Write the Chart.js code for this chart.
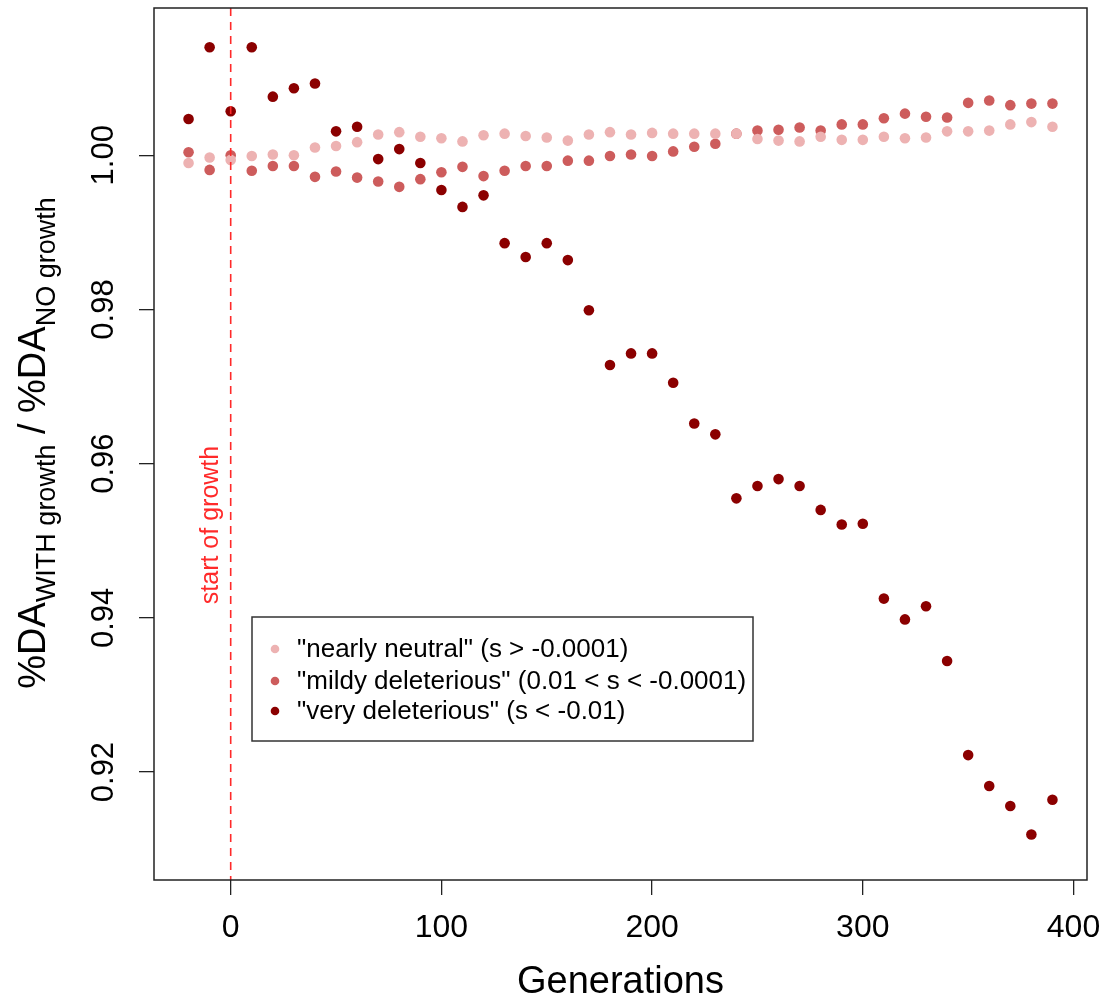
<!DOCTYPE html>
<html>
<head>
<meta charset="utf-8">
<script src="https://cdn.jsdelivr.net/npm/chart.js@4.4.0/dist/chart.umd.min.js"></script>
<style>
html,body{margin:0;padding:0;background:#ffffff;}
#wrap{width:1106px;height:1005px;position:relative;}
</style>
</head>
<body>
<div id="wrap"><canvas id="c" width="1106" height="1005"></canvas></div>
<script>
// ---------- data ----------
const generations = [-20,-10,0,10,20,30,40,50,60,70,80,90,100,110,120,130,140,150,160,170,180,190,200,210,220,230,240,250,260,270,280,290,300,310,320,330,340,350,360,370,380,390];
const nearlyNeutral = [0.9990,0.9997,0.9994,0.9999,1.0001,1.0000,1.0010,1.0012,1.0017,1.0027,1.0030,1.0024,1.0022,1.0018,1.0026,1.0028,1.0025,1.0023,1.0019,1.0027,1.0030,1.0027,1.0029,1.0028,1.0028,1.0028,1.0028,1.0021,1.0019,1.0018,1.0024,1.0020,1.0020,1.0024,1.0022,1.0023,1.0031,1.0031,1.0032,1.0040,1.0043,1.0037];
const mildlyDeleterious = [1.0004,0.9981,1.0000,0.9980,0.9986,0.9986,0.9972,0.9979,0.9971,0.9966,0.9959,0.9969,0.9978,0.9985,0.9973,0.9980,0.9986,0.9986,0.9993,0.9993,0.9999,1.0001,0.9999,1.0005,1.0011,1.0015,1.0028,1.0032,1.0033,1.0036,1.0032,1.0040,1.0040,1.0048,1.0054,1.0050,1.0049,1.0068,1.0071,1.0065,1.0067,1.0067];
const veryDeleterious = [1.0047,1.0140,1.0057,1.0140,1.0076,1.0087,1.0093,1.0031,1.0037,0.9995,1.0008,0.9990,0.9955,0.9933,0.9948,0.9886,0.9868,0.9886,0.9864,0.9799,0.9728,0.9743,0.9743,0.9705,0.9652,0.9638,0.9555,0.9571,0.9580,0.9571,0.9540,0.9521,0.9522,0.9425,0.9398,0.9415,0.9344,0.9222,0.9182,0.9156,0.9119,0.9164];
const xTickValues = [0,100,200,300,400];
const yTickValues = [0.92,0.94,0.96,0.98,1.00];
const seriesNames = ['"nearly neutral" (s > -0.0001)', '"mildy deleterious" (0.01 < s < -0.0001)', '"very deleterious" (s < -0.01)'];
const seriesColors = ['#EDB2B2', '#CD5C5C', '#8B0000'];
const xTitle = 'Generations';
const yTitleParts = [
  {text: '%DA', sub: false},
  {text: 'WITH growth', sub: true},
  {text: ' / ', sub: false},
  {text: '%DA', sub: false},
  {text: 'NO growth', sub: true}
];
const markerGeneration = 0;
const markerLabel = 'start of growth';

// ---------- chart ----------
const FAMILY = '"Liberation Sans", Arial, Helvetica, sans-serif';
const seriesValues = [nearlyNeutral, mildlyDeleterious, veryDeleterious];

const datasets = seriesValues.map((vals, k) => ({
  label: seriesNames[k],
  data: generations.map((g, i) => ({x: g, y: vals[i]})),
  backgroundColor: seriesColors[k],
  borderColor: seriesColors[k],
  borderWidth: 0,
  pointRadius: 5.3,
  pointHoverRadius: 5.3
}));

const decor = {
  id: 'decor',
  afterDatasetsDraw(chart) {
    const {ctx, chartArea: a, scales: {x}} = chart;
    const px = x.getPixelForValue(markerGeneration);
    ctx.save();
    ctx.beginPath(); ctx.rect(a.left, a.top, a.right - a.left, a.bottom - a.top); ctx.clip();
    ctx.strokeStyle = '#FF2A2A'; ctx.lineWidth = 1.6; ctx.setLineDash([8, 6]);
    ctx.beginPath(); ctx.moveTo(px, a.top); ctx.lineTo(px, a.bottom); ctx.stroke();
    ctx.restore();

    ctx.save();
    ctx.translate(px - 13, 525);
    ctx.rotate(-Math.PI / 2);
    ctx.font = '25px ' + FAMILY;
    ctx.fillStyle = '#FF2A2A';
    ctx.textAlign = 'center';
    ctx.textBaseline = 'alphabetic';
    ctx.fillText(markerLabel, 0, 0);
    ctx.restore();
  },
  afterDraw(chart) {
    const {ctx, chartArea: a} = chart;
    // frame
    ctx.save();
    ctx.strokeStyle = '#222'; ctx.lineWidth = 1.5;
    ctx.strokeRect(a.left, a.top, a.right - a.left, a.bottom - a.top);
    ctx.restore();

    // legend
    ctx.save();
    const lx = 252, ly = 617, lw = 501, lh = 124;
    ctx.fillStyle = '#fff';
    ctx.fillRect(lx, ly, lw, lh);
    ctx.strokeStyle = '#333'; ctx.lineWidth = 1.5;
    ctx.strokeRect(lx, ly, lw, lh);
    const rows = [649, 681, 711];
    ctx.font = '26px ' + FAMILY;
    ctx.textBaseline = 'middle';
    ctx.textAlign = 'left';
    chart.data.datasets.forEach((ds, k) => {
      ctx.fillStyle = ds.backgroundColor;
      ctx.beginPath(); ctx.arc(lx + 23, rows[k], 4.3, 0, Math.PI * 2); ctx.fill();
      ctx.fillStyle = '#000';
      ctx.fillText(ds.label, lx + 45, rows[k] + 1);
    });
    ctx.restore();

    // y title with subscripts
    ctx.save();
    const big = '38px ' + FAMILY, small = '27px ' + FAMILY;
    let total = 0;
    const widths = yTitleParts.map(p => { ctx.font = p.sub ? small : big; const w = ctx.measureText(p.text).width; total += w; return w; });
    ctx.translate(45, 443);
    ctx.rotate(-Math.PI / 2);
    ctx.fillStyle = '#000';
    ctx.textBaseline = 'alphabetic';
    ctx.textAlign = 'left';
    let cx = -total / 2;
    yTitleParts.forEach((p, i) => {
      ctx.font = p.sub ? small : big;
      ctx.fillText(p.text, cx, p.sub ? 10 : 0);
      cx += widths[i];
    });
    ctx.restore();
  }
};

new Chart(document.getElementById('c'), {
  type: 'scatter',
  data: {datasets},
  options: {
    responsive: false,
    animation: false,
    devicePixelRatio: 1,
    layout: {padding: {top: 8, right: 19, left: 0, bottom: 0}},
    plugins: {legend: {display: false}, tooltip: {enabled: false}},
    scales: {
      x: {
        type: 'linear', min: -36.4, max: 406.4,
        afterBuildTicks: s => { s.ticks = xTickValues.map(v => ({value: v})); },
        afterFit: s => { s.height = 125; s.paddingLeft = 0; s.paddingRight = 0; },
        grid: {drawOnChartArea: false, drawTicks: true, tickLength: 15, color: '#222', lineWidth: 1.3},
        border: {display: false},
        ticks: {color: '#000', padding: 14, maxRotation: 0, font: {family: FAMILY, size: 32}, callback: v => String(v)},
        title: {display: true, text: xTitle, color: '#000', font: {family: FAMILY, size: 38}, padding: {top: 0, bottom: 0}}
      },
      y: {
        type: 'linear', min: 0.906, max: 1.0191,
        afterBuildTicks: s => { s.ticks = yTickValues.map(v => ({value: v})); },
        afterFit: s => { s.width = 154; s.paddingTop = 0; s.paddingBottom = 0; },
        grid: {drawOnChartArea: false, drawTicks: true, tickLength: 15, color: '#222', lineWidth: 1.3},
        border: {display: false},
        ticks: {color: '#000', padding: 4, minRotation: 90, maxRotation: 90, crossAlign: 'center', font: {family: FAMILY, size: 31}, callback: v => v.toFixed(2)}
      }
    }
  },
  plugins: [decor]
});
</script>
</body>
</html>
